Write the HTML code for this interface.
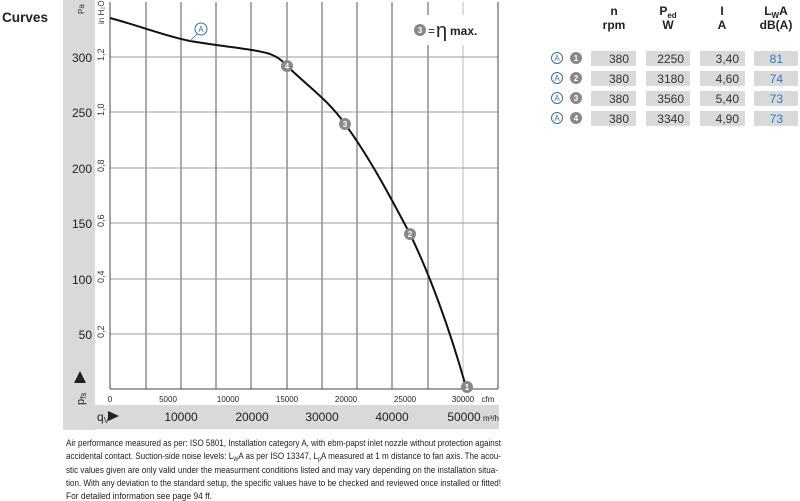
<!DOCTYPE html>
<html><head><meta charset="utf-8"><style>
html,body{margin:0;padding:0;background:#fff;}
svg{display:block;font-family:"Liberation Sans",sans-serif;}
</style></head><body>
<svg width="800" height="501" viewBox="0 0 800 501" xmlns="http://www.w3.org/2000/svg">
<text x="2" y="22" font-size="14" font-weight="bold" fill="#222" textLength="46" lengthAdjust="spacingAndGlyphs">Curves</text>
<rect x="63" y="0" width="32" height="430" fill="#d9d9d9"/>
<rect x="63" y="405" width="436" height="24" fill="#d9d9d9"/>
<rect x="95" y="0" width="404" height="405" fill="#fff"/>
<g stroke="#555" stroke-width="1">
<line x1="146" y1="2" x2="146" y2="389"/><line x1="181" y1="2" x2="181" y2="389"/>
<line x1="216" y1="2" x2="216" y2="389"/><line x1="251" y1="2" x2="251" y2="389"/>
<line x1="287" y1="2" x2="287" y2="389"/><line x1="322" y1="2" x2="322" y2="389"/>
<line x1="357" y1="2" x2="357" y2="389"/><line x1="392" y1="2" x2="392" y2="389"/>
<line x1="428" y1="2" x2="428" y2="389"/>
</g>
<line x1="463" y1="2" x2="463" y2="389" stroke="#bbb"/>
<g stroke="#999" stroke-width="1">
<line x1="110" y1="57" x2="498" y2="57"/><line x1="110" y1="112" x2="498" y2="112"/>
<line x1="110" y1="168" x2="498" y2="168"/><line x1="110" y1="223" x2="498" y2="223"/>
<line x1="110" y1="279" x2="498" y2="279"/><line x1="110" y1="334" x2="498" y2="334"/>
</g>
<rect x="400" y="15" width="80" height="30" fill="#fff"/>
<line x1="110" y1="2" x2="110" y2="389" stroke="#444"/>
<line x1="498" y1="2" x2="498" y2="389" stroke="#444"/>
<line x1="110" y1="389" x2="498" y2="389" stroke="#444"/>
<g font-size="12" fill="#222" text-anchor="end">
<text x="92" y="62">300</text><text x="92" y="117">250</text><text x="92" y="173">200</text>
<text x="92" y="228">150</text><text x="92" y="284">100</text><text x="92" y="339">50</text>
</g>
<g font-size="9" fill="#333">
<text transform="translate(104,61) rotate(-90)">1,2</text>
<text transform="translate(104,116) rotate(-90)">1,0</text>
<text transform="translate(104,172) rotate(-90)">0,8</text>
<text transform="translate(104,227) rotate(-90)">0,6</text>
<text transform="translate(104,283) rotate(-90)">0,4</text>
<text transform="translate(104,338) rotate(-90)">0,2</text>
<text transform="translate(104,24) rotate(-90)" font-size="8">in H₂O</text>
<text transform="translate(84,14) rotate(-90)" font-size="8">Pa</text>
</g>
<text transform="translate(84,405) rotate(-90)" font-size="11" fill="#222">p<tspan font-size="8" dy="2">fs</tspan></text>
<polygon points="74,383 86,383 80,371" fill="#222"/>
<g font-size="8" fill="#222" text-anchor="middle">
<text x="110" y="402">0</text><text x="168" y="402">5000</text><text x="228" y="402">10000</text>
<text x="287" y="402">15000</text><text x="346" y="402">20000</text><text x="405" y="402">25000</text>
<text x="463" y="402">30000</text><text x="488" y="402">cfm</text>
</g>
<g font-size="12" fill="#222" text-anchor="middle">
<text x="181" y="421">10000</text><text x="252" y="421">20000</text><text x="322" y="421">30000</text>
<text x="392" y="421">40000</text><text x="464" y="421">50000</text>
</g>
<text x="483" y="421" font-size="8" fill="#222">m³/h</text>
<text x="97" y="421" font-size="12" fill="#222">q<tspan font-size="8" dy="2">V</tspan></text>
<polygon points="108,411 108,421 119,416" fill="#222"/>
<path d="M110,18 C140,26 165,36 190,41 C225,47 255,49 270,54 C278,57 283,61 287,66 C310,88 328,100 345,124 C370,158 392,200 410,234 C430,275 450,330 466,387" fill="none" stroke="#111" stroke-width="2"/>
<line x1="190" y1="41" x2="199" y2="32" stroke="#3a6ea5" stroke-width="0.8"/>
<circle cx="201" cy="29" r="6" fill="#fff" stroke="#3a6ea5"/>
<text x="201" y="32" font-size="8" fill="#3a6ea5" text-anchor="middle">A</text>
<g font-size="8" font-weight="bold" fill="#fff" text-anchor="middle">
<circle cx="287" cy="66" r="6" fill="#888"/><text x="287" y="69">4</text>
<circle cx="345" cy="124" r="6" fill="#888"/><text x="345" y="127">3</text>
<circle cx="410" cy="234" r="6" fill="#888"/><text x="410" y="237">2</text>
<circle cx="467" cy="387" r="6" fill="#888"/><text x="467" y="390">1</text>
<circle cx="420" cy="30" r="6" fill="#888"/><text x="420" y="33">3</text>
</g>
<text x="428" y="35" font-size="12" fill="#222">=</text>
<text x="436" y="37" font-size="20" fill="#222">η</text>
<text x="450" y="35" font-size="12" font-weight="bold" fill="#222">max.</text>
<g font-size="9" fill="#222">
<text x="66" y="446" textLength="435" lengthAdjust="spacingAndGlyphs">Air performance measured as per: ISO 5801, Installation category A, with ebm-papst inlet nozzle without protection against</text>
<text x="66" y="459" textLength="435" lengthAdjust="spacingAndGlyphs">accidental contact. Suction-side noise levels: L<tspan font-size="6" dy="2">W</tspan><tspan dy="-2">A as per ISO 13347, L</tspan><tspan font-size="6" dy="2">p</tspan><tspan dy="-2">A measured at 1 m distance to fan axis. The acou-</tspan></text>
<text x="66" y="473" textLength="432" lengthAdjust="spacingAndGlyphs">stic values given are only valid under the measurment conditions listed and may vary depending on the installation situa-</text>
<text x="66" y="486" textLength="435" lengthAdjust="spacingAndGlyphs">tion. With any deviation to the standard setup, the specific values have to be checked and reviewed once installed or fitted!</text>
<text x="66" y="499" textLength="146" lengthAdjust="spacingAndGlyphs">For detailed information see page 94 ff.</text>
</g>
<g font-size="12" font-weight="bold" fill="#222" text-anchor="middle">
<text x="614" y="15">n</text><text x="614" y="29">rpm</text>
<text x="668" y="15">P<tspan font-size="8" dy="3">ed</tspan></text><text x="668" y="29">W</text>
<text x="722" y="15">I</text><text x="722" y="29">A</text>
<text x="776" y="15">L<tspan font-size="8" dy="3">W</tspan><tspan dy="-3">A</tspan></text><text x="776" y="29">dB(A)</text>
</g>
<g font-size="12" fill="#333" text-anchor="end">
<g>
<rect x="591" y="51" width="45" height="15" fill="#d9d9d9"/><rect x="646" y="51" width="44" height="15" fill="#d9d9d9"/>
<rect x="700" y="51" width="45" height="15" fill="#d9d9d9"/><rect x="754" y="51" width="44" height="15" fill="#d9d9d9"/>
<text x="629" y="63">380</text><text x="684" y="63">2250</text><text x="739" y="63">3,40</text>
<text x="783" y="63" fill="#2a7bbf">81</text>
</g>
<g transform="translate(0,20)">
<rect x="591" y="51" width="45" height="15" fill="#d9d9d9"/><rect x="646" y="51" width="44" height="15" fill="#d9d9d9"/>
<rect x="700" y="51" width="45" height="15" fill="#d9d9d9"/><rect x="754" y="51" width="44" height="15" fill="#d9d9d9"/>
<text x="629" y="63">380</text><text x="684" y="63">3180</text><text x="739" y="63">4,60</text>
<text x="783" y="63" fill="#2a7bbf">74</text>
</g>
<g transform="translate(0,40)">
<rect x="591" y="51" width="45" height="15" fill="#d9d9d9"/><rect x="646" y="51" width="44" height="15" fill="#d9d9d9"/>
<rect x="700" y="51" width="45" height="15" fill="#d9d9d9"/><rect x="754" y="51" width="44" height="15" fill="#d9d9d9"/>
<text x="629" y="63">380</text><text x="684" y="63">3560</text><text x="739" y="63">5,40</text>
<text x="783" y="63" fill="#2a7bbf">73</text>
</g>
<g transform="translate(0,60)">
<rect x="591" y="51" width="45" height="15" fill="#d9d9d9"/><rect x="646" y="51" width="44" height="15" fill="#d9d9d9"/>
<rect x="700" y="51" width="45" height="15" fill="#d9d9d9"/><rect x="754" y="51" width="44" height="15" fill="#d9d9d9"/>
<text x="629" y="63">380</text><text x="684" y="63">3340</text><text x="739" y="63">4,90</text>
<text x="783" y="63" fill="#2a7bbf">73</text>
</g>
</g>
<g font-size="8" text-anchor="middle">
<circle cx="557" cy="58" r="5.5" fill="#fff" stroke="#3a6ea5"/><text x="557" y="61" fill="#3a6ea5">A</text>
<circle cx="557" cy="78" r="5.5" fill="#fff" stroke="#3a6ea5"/><text x="557" y="81" fill="#3a6ea5">A</text>
<circle cx="557" cy="98" r="5.5" fill="#fff" stroke="#3a6ea5"/><text x="557" y="101" fill="#3a6ea5">A</text>
<circle cx="557" cy="118" r="5.5" fill="#fff" stroke="#3a6ea5"/><text x="557" y="121" fill="#3a6ea5">A</text>
<g font-weight="bold" fill="#fff">
<circle cx="576" cy="58" r="6" fill="#888"/><text x="576" y="61">1</text>
<circle cx="576" cy="78" r="6" fill="#888"/><text x="576" y="81">2</text>
<circle cx="576" cy="98" r="6" fill="#888"/><text x="576" y="101">3</text>
<circle cx="576" cy="118" r="6" fill="#888"/><text x="576" y="121">4</text>
</g>
</g>
</svg>
</body></html>
